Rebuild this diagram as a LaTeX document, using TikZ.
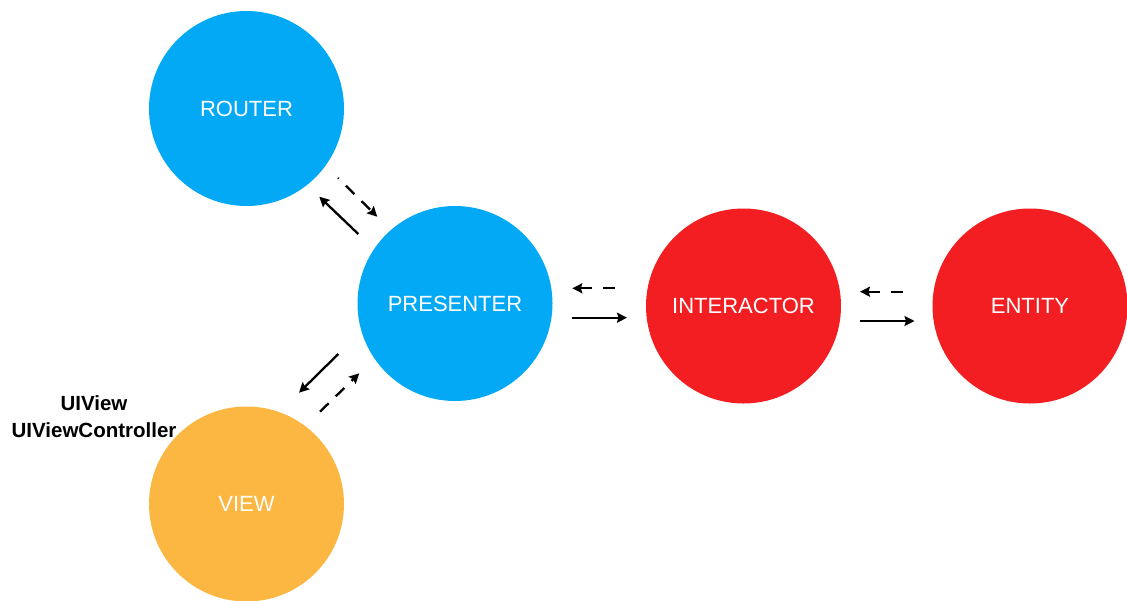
\documentclass[tikz,border=0pt]{standalone}
\usepackage{fontspec}
\setmainfont{Liberation Sans}
\usetikzlibrary{arrows.meta}
\definecolor{vblue}{HTML}{03A9F4}
\definecolor{vred}{HTML}{F21E22}
\definecolor{vorange}{HTML}{FBB741}
\begin{document}
\begin{tikzpicture}[x=1pt,y=-1pt,
  ball/.style={circle, minimum size=195pt, inner sep=0pt, text=white,
    font=\fontsize{22}{26}\selectfont},
  flow/.style={line width=2.3pt, -{Stealth[length=10pt,width=10pt,inset=1.5pt]}},
  back/.style={flow, dash pattern=on 12pt off 10pt},
  caption/.style={align=center, font=\bfseries\fontsize{20.5}{27}\selectfont, text=black}]
\useasboundingbox (0,0) rectangle (1127,600);
\node[ball, fill=vblue]   (router)     at (246.5,108.5) {ROUTER};
\node[ball, fill=vblue]   (presenter)  at (455,303.5)   {PRESENTER};
\node[ball, fill=vred]    (interactor) at (743.5,306)   {INTERACTOR};
\node[ball, fill=vred]    (entity)     at (1030,306)    {ENTITY};
\node[ball, fill=vorange] (view)       at (246.5,504)   {VIEW};
\node[caption] (uikit) at (94,417) {UIView\\UIViewController};
% router <-> presenter
\coordinate (rp1) at (358.3,234);
\coordinate (rp2) at (319.3,196.7);
\coordinate (rp3) at (338,178);
\coordinate (rp4) at (377.3,216.7);
\draw[flow] (rp1) -- (rp2);
\draw[back, dash phase=11pt] (rp3) -- (rp4);
% presenter <-> view
\coordinate (pv1) at (338.3,354);
\coordinate (pv2) at (299,392.7);
\coordinate (pv3) at (320,411.7);
\coordinate (pv4) at (359.3,373.3);
\draw[flow] (pv1) -- (pv2);
\draw[back] (pv3) -- (pv4);
% presenter <-> interactor
\coordinate (pi1) at (615,288.3);
\coordinate (pi2) at (572.3,288.3);
\coordinate (pi3) at (571.7,317.7);
\coordinate (pi4) at (627,317.7);
\draw[back, dash pattern=on 12pt off 11pt] (pi1) -- (pi2);
\draw[flow] (pi3) -- (pi4);
% interactor <-> entity
\coordinate (ie1) at (903,291.7);
\coordinate (ie2) at (860,291.7);
\coordinate (ie3) at (860,321);
\coordinate (ie4) at (914.5,321);
\draw[back, dash pattern=on 12pt off 11pt] (ie1) -- (ie2);
\draw[flow] (ie3) -- (ie4);
\end{tikzpicture}
\end{document}
